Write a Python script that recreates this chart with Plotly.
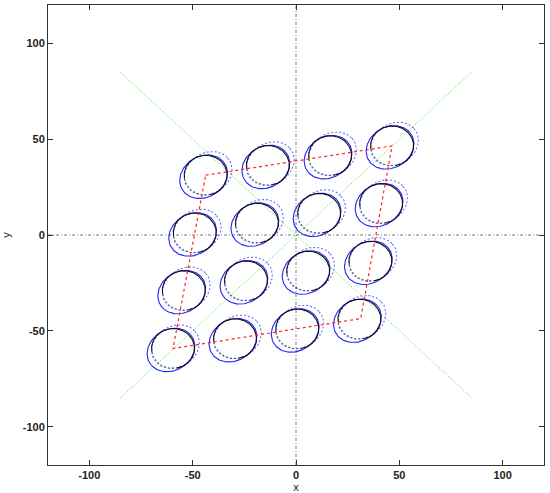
import numpy as np
import plotly.graph_objects as go

# ---- data ----
# centres of the 16 nominal circles (row by row, top row first)
center_x = [-43.7, -13.6, 16.5, 46.5,
            -49.0, -18.9, 11.2, 41.2,
            -54.3, -24.2, 5.9, 36.0,
            -59.5, -29.5, 0.6, 30.7]
center_y = [31.2, 36.3, 41.4, 46.5,
            1.1, 6.2, 11.3, 16.4,
            -29.0, -23.9, -18.8, -13.7,
            -59.2, -54.1, -49.0, -43.9]
circle_radius = 10.4
# transformed ellipses (semi-axes, tilt in degrees, offsets of the two variants)
ellipse_a = 12.4
ellipse_b = 10.4
ellipse_tilt = 42.0
solid_offset = (-1.0, -0.8)
dotted_offset = (1.2, 1.0)
# red dashed frame through the corner centres
frame_x = [-43.7, 46.5, 31.3, -59.5, -43.7]
frame_y = [31.2, 46.5, -43.6, -59.2, 31.2]
# green diagonals
diag_extent = [-85, 85]
# axes lines through origin
axis_extent = [-120, 120]
tick_vals = [-100, -50, 0, 50, 100]
tick_text = ["-100", "-50", "0", "50", "100"]


def ellipse_pts(cx, cy, a, b, tilt_deg, t0, t1, n=120):
    t = np.radians(np.linspace(t0, t1, n))
    th = np.radians(tilt_deg)
    x = a * np.cos(t)
    y = b * np.sin(t)
    xr = cx + x * np.cos(th) - y * np.sin(th)
    yr = cy + x * np.sin(th) + y * np.cos(th)
    return list(xr), list(yr)


def collect(fn):
    xs, ys = [], []
    for cx, cy in zip(center_x, center_y):
        x, y = fn(cx, cy)
        xs += x + [None]
        ys += y + [None]
    return xs, ys


fig = go.Figure()

# axis lines through origin
fig.add_trace(go.Scatter(x=[0, 0], y=axis_extent, mode="lines",
                         line=dict(color="#555555", width=0.8, dash="3px,2px,1px,2px"),
                         hoverinfo="skip"))
fig.add_trace(go.Scatter(x=axis_extent, y=[0, 0], mode="lines",
                         line=dict(color="#555555", width=0.8, dash="3px,2px,1px,2px"),
                         hoverinfo="skip"))

# green diagonals
fig.add_trace(go.Scatter(x=diag_extent, y=diag_extent, mode="lines",
                         line=dict(color="#22ee22", width=1, dash="1px,2px"),
                         hoverinfo="skip"))
fig.add_trace(go.Scatter(x=diag_extent, y=diag_extent[::-1], mode="lines",
                         line=dict(color="#22ee22", width=1, dash="1px,2px"),
                         hoverinfo="skip"))

# blue ellipses
ux, uy = collect(lambda cx, cy: ellipse_pts(cx + dotted_offset[0], cy + dotted_offset[1],
                                            ellipse_a, ellipse_b, ellipse_tilt, 0, 360))
fig.add_trace(go.Scatter(x=ux, y=uy, mode="lines",
                         line=dict(color="rgba(60,60,255,0.75)", width=1.1, dash="2px,2px"),
                         hoverinfo="skip"))
ux, uy = collect(lambda cx, cy: ellipse_pts(cx + solid_offset[0], cy + solid_offset[1],
                                            ellipse_a, ellipse_b, ellipse_tilt, 0, 360))
fig.add_trace(go.Scatter(x=ux, y=uy, mode="lines",
                         line=dict(color="#2222ff", width=1.1), hoverinfo="skip"))

# black circles: solid part and dotted part
bx, by = collect(lambda cx, cy: ellipse_pts(cx, cy, circle_radius, circle_radius, 0, 280, 550))
fig.add_trace(go.Scatter(x=bx, y=by, mode="lines",
                         line=dict(color="#111111", width=1.1), hoverinfo="skip"))
bx, by = collect(lambda cx, cy: ellipse_pts(cx, cy, circle_radius, circle_radius, 0, 190, 280, 40))
fig.add_trace(go.Scatter(x=bx, y=by, mode="lines",
                         line=dict(color="#555555", width=1, dash="2px,2px"), hoverinfo="skip"))

# red dashed frame
fig.add_trace(go.Scatter(x=frame_x, y=frame_y, mode="lines",
                         line=dict(color="#ff2222", width=1.2, dash="3px,3px"),
                         hoverinfo="skip"))

axis_common = dict(
    range=axis_extent, tickvals=tick_vals, ticktext=tick_text,
    ticks="inside", ticklen=5, tickcolor="#333333",
    showline=True, linecolor="#333333", linewidth=1, mirror="ticks",
    showgrid=False, zeroline=False, automargin=False,
    tickfont=dict(family="Liberation Sans, Arial", size=11, color="#222222", weight="bold"),
)

fig.update_layout(
    width=550, height=493,
    margin=dict(l=48, r=6, t=5, b=28),
    paper_bgcolor="white", plot_bgcolor="white",
    showlegend=False,
    xaxis=dict(**axis_common,
               title=dict(text="x", standoff=0,
                          font=dict(family="Liberation Sans, Arial", size=11, color="#222222"))),
    yaxis=dict(**axis_common,
               title=dict(text="y", standoff=10,
                          font=dict(family="Liberation Sans, Arial", size=11, color="#222222"))),
)

fig.write_html("out.html", config={"displayModeBar": False},
               post_script="document.body.style.margin='0';document.body.style.overflow='hidden';")
